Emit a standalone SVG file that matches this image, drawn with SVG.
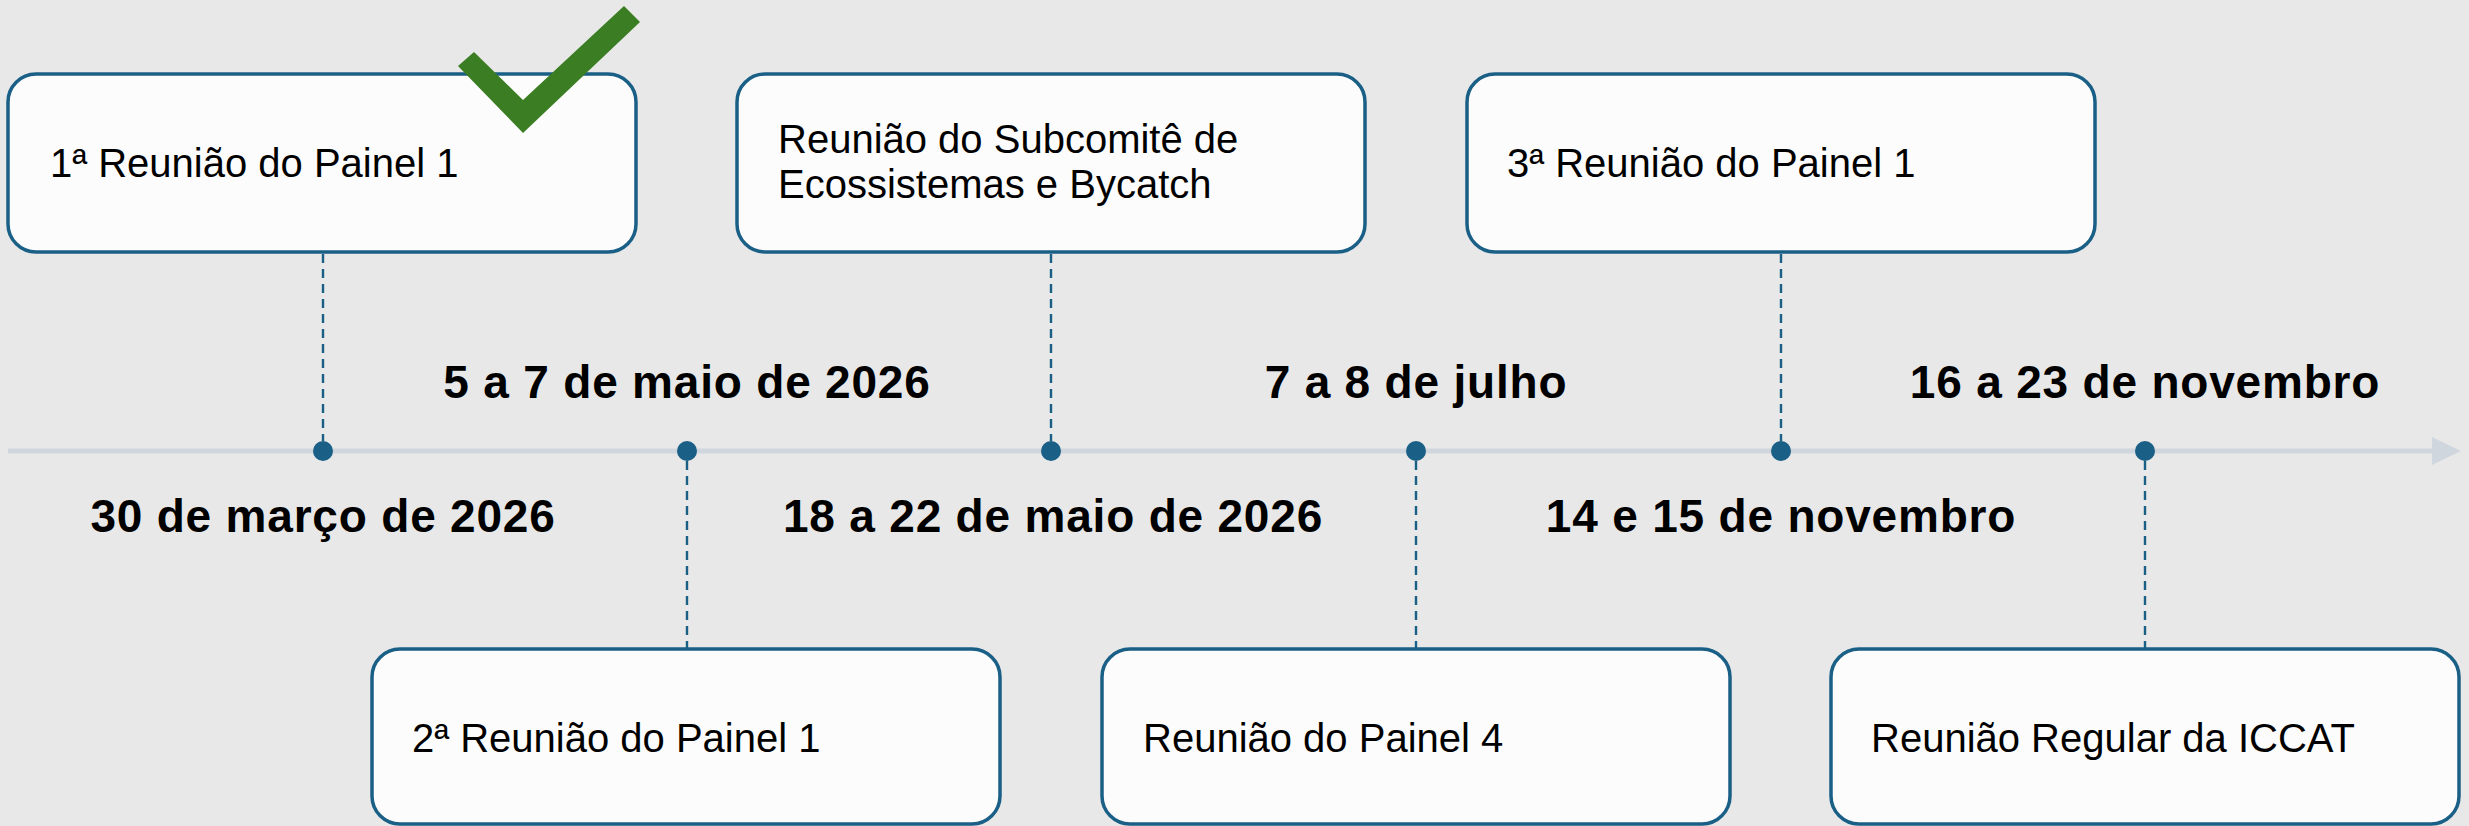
<svg xmlns="http://www.w3.org/2000/svg" width="2469" height="826" viewBox="0 0 2469 826">
<defs>
<style>
.box{fill:#fcfcfc;stroke:#1a5f86;stroke-width:3.5}
.lbl{font-family:"Liberation Sans",Arial,sans-serif;font-size:40px;fill:#000}
.date{font-family:"Liberation Sans",Arial,sans-serif;font-size:46px;font-weight:bold;fill:#000;text-anchor:middle;letter-spacing:0.8px}
.dash{stroke:#1a5f86;stroke-width:2.4;stroke-dasharray:9 6;fill:none}
.dot{fill:#1a5f86}
</style>
</defs>
<rect x="0" y="0" width="2469" height="826" fill="#e8e8e8"/>

<g id="timeline">
<line x1="8" y1="451" x2="2436" y2="451" stroke="#d0d6de" stroke-width="5"/>
<polygon points="2432,437 2461,451 2432,465" fill="#d0d6de"/>
</g>

<g id="connectors">
<line class="dash" x1="323" y1="254" x2="323" y2="441"/>
<line class="dash" x1="687" y1="461" x2="687" y2="648"/>
<line class="dash" x1="1051" y1="254" x2="1051" y2="441"/>
<line class="dash" x1="1416" y1="461" x2="1416" y2="648"/>
<line class="dash" x1="1781" y1="254" x2="1781" y2="441"/>
<line class="dash" x1="2145" y1="461" x2="2145" y2="648"/>
<circle class="dot" cx="323" cy="451" r="10"/>
<circle class="dot" cx="687" cy="451" r="10"/>
<circle class="dot" cx="1051" cy="451" r="10"/>
<circle class="dot" cx="1416" cy="451" r="10"/>
<circle class="dot" cx="1781" cy="451" r="10"/>
<circle class="dot" cx="2145" cy="451" r="10"/>
</g>

<g id="node1">
<rect class="box" x="8" y="74" width="628" height="178" rx="28"/>
<text class="lbl" x="50" y="177">1ª Reunião do Painel 1</text>
<polygon points="458,66 474,52 523,100 624,6 640,22 523,133" fill="#3a7d23"/>
</g>
<g id="node2">
<rect class="box" x="372" y="649" width="628" height="175" rx="28"/>
<text class="lbl" x="412" y="752">2ª Reunião do Painel 1</text>
</g>
<g id="node3">
<rect class="box" x="737" y="74" width="628" height="178" rx="28"/>
<text class="lbl" x="778" y="153">Reunião do Subcomitê de</text>
<text class="lbl" x="778" y="198">Ecossistemas e Bycatch</text>
</g>
<g id="node4">
<rect class="box" x="1102" y="649" width="628" height="175" rx="28"/>
<text class="lbl" x="1143" y="752">Reunião do Painel 4</text>
</g>
<g id="node5">
<rect class="box" x="1467" y="74" width="628" height="178" rx="28"/>
<text class="lbl" x="1507" y="177">3ª Reunião do Painel 1</text>
</g>
<g id="node6">
<rect class="box" x="1831" y="649" width="628" height="175" rx="28"/>
<text class="lbl" x="1871" y="752">Reunião Regular da ICCAT</text>
</g>

<g id="dates">
<text class="date" x="323" y="532">30 de março de 2026</text>
<text class="date" x="687" y="398">5 a 7 de maio de 2026</text>
<text class="date" x="1053" y="532">18 a 22 de maio de 2026</text>
<text class="date" x="1416" y="398">7 a 8 de julho</text>
<text class="date" x="1781" y="532">14 e 15 de novembro</text>
<text class="date" x="2145" y="398">16 a 23 de novembro</text>
</g>
</svg>
